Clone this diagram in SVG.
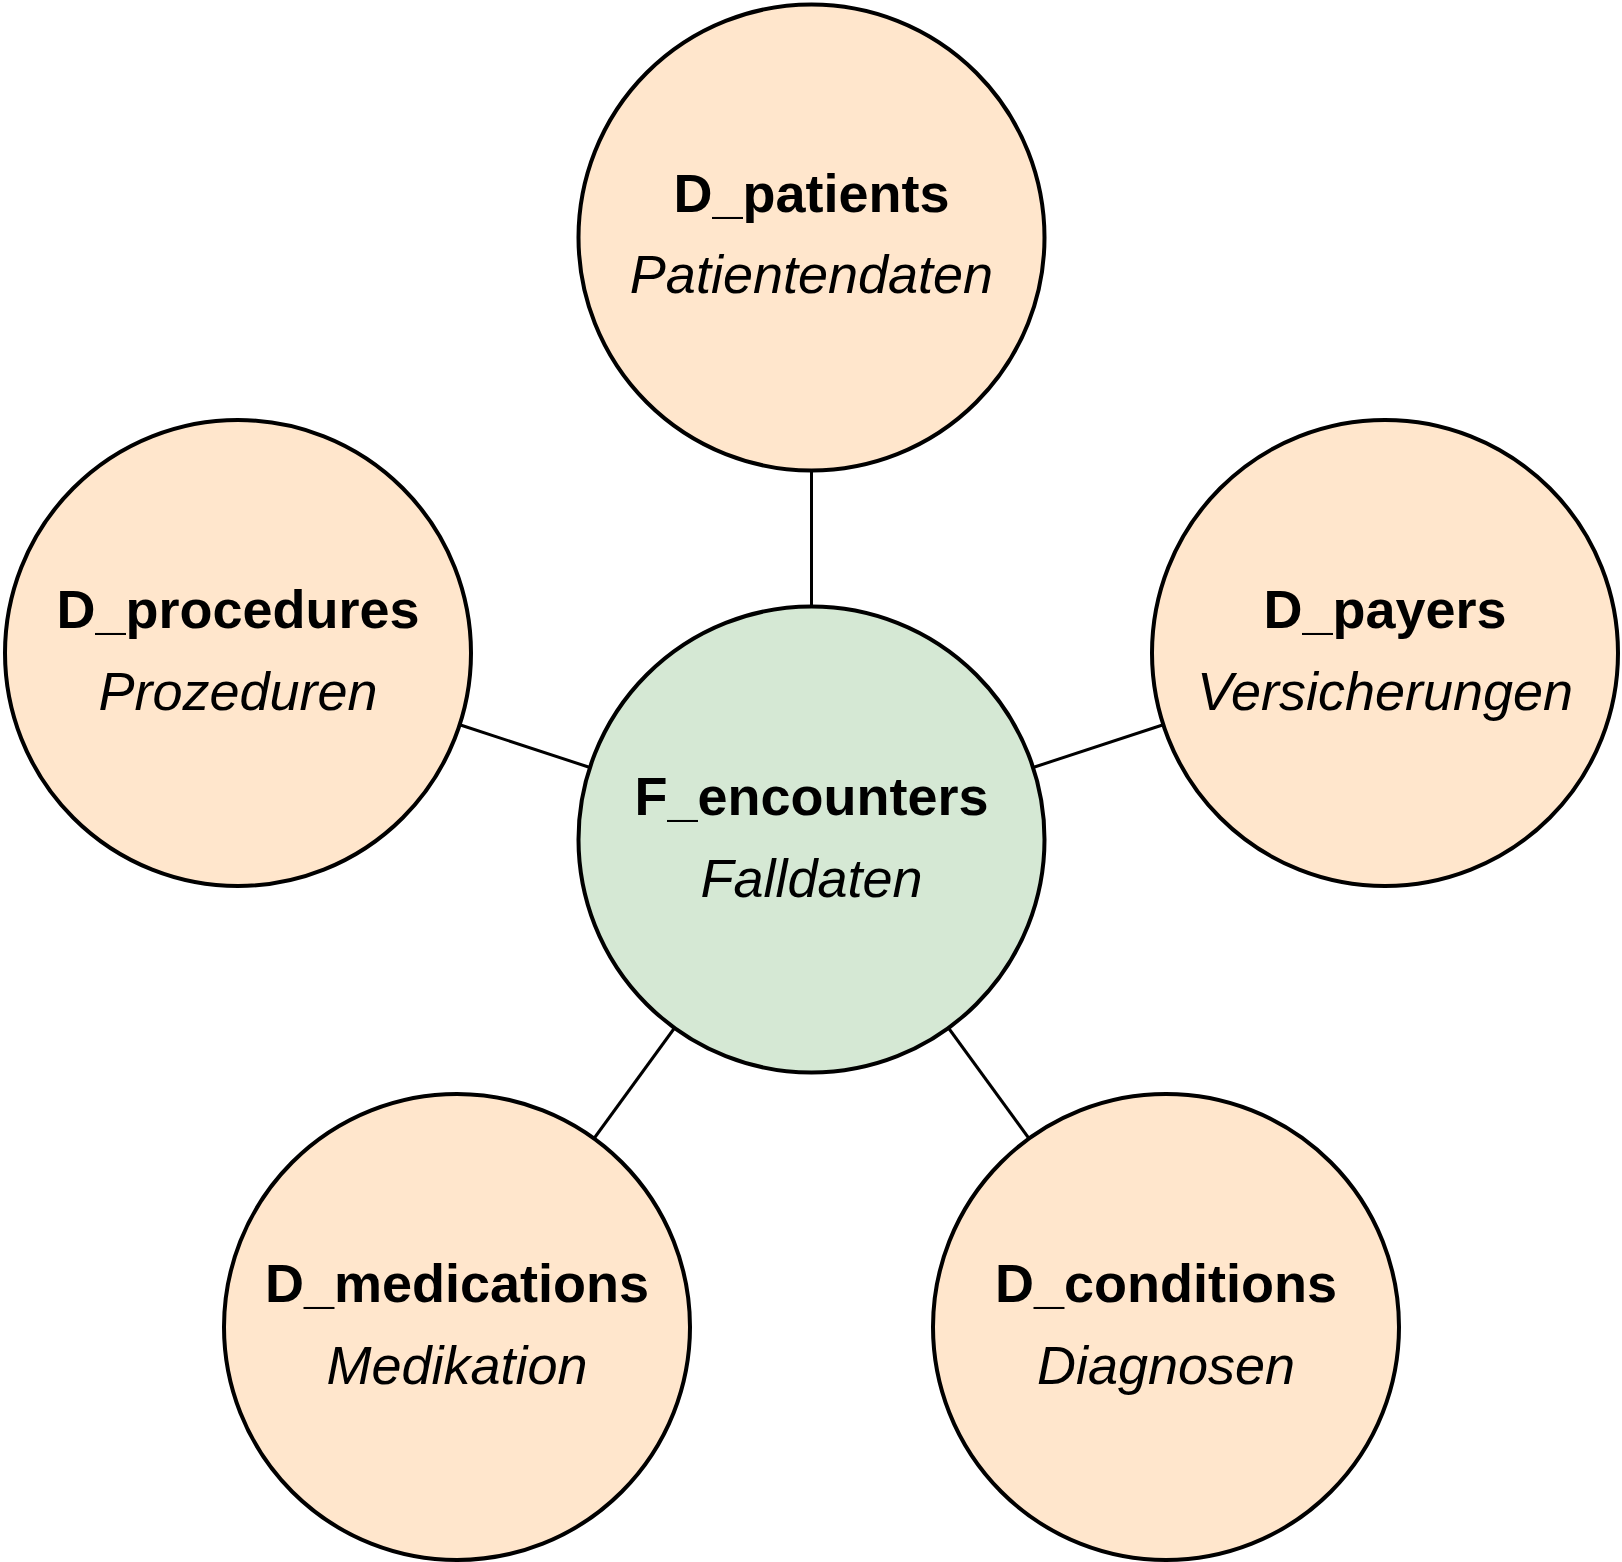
<svg xmlns="http://www.w3.org/2000/svg" width="1622" height="1562" viewBox="0 0 1622 1562">
<style>
.n{stroke:#000;stroke-width:4}
.d{fill:#ffe6cc}
.f{fill:#d5e8d4}
.t{font-family:"Liberation Sans",Arial,sans-serif;font-size:54px;fill:#000;text-anchor:middle}
.b{font-weight:bold}
.i{font-style:italic}
.c{stroke:#000;stroke-width:3;fill:none}
</style>
<rect width="1622" height="1562" fill="#fff"/>
<g id="connectors">
<line class="c" x1="811.5" y1="470" x2="811.5" y2="606.5"/>
<line class="c" x1="590" y1="767.5" x2="460.5" y2="725"/>
<line class="c" x1="1033" y1="767.5" x2="1162.5" y2="725"/>
<line class="c" x1="674.5" y1="1028" x2="594" y2="1138.5"/>
<line class="c" x1="948.5" y1="1028" x2="1029" y2="1138.5"/>
</g>
<g id="D_patients">
<circle class="n d" cx="811.5" cy="237.5" r="233"/>
<text class="t b" x="811.5" y="212">D_patients</text>
<text class="t i" x="811.5" y="293">Patientendaten</text>
</g>
<g id="F_encounters">
<circle class="n f" cx="811.5" cy="839.5" r="233"/>
<text class="t b" x="811.5" y="815">F_encounters</text>
<text class="t i" x="811.5" y="897">Falldaten</text>
</g>
<g id="D_procedures">
<circle class="n d" cx="238" cy="653" r="233"/>
<text class="t b" x="238" y="628">D_procedures</text>
<text class="t i" x="238" y="710">Prozeduren</text>
</g>
<g id="D_payers">
<circle class="n d" cx="1385" cy="653" r="233"/>
<text class="t b" x="1385" y="628">D_payers</text>
<text class="t i" x="1385" y="710">Versicherungen</text>
</g>
<g id="D_medications">
<circle class="n d" cx="457" cy="1327" r="233"/>
<text class="t b" x="457" y="1302">D_medications</text>
<text class="t i" x="457" y="1384">Medikation</text>
</g>
<g id="D_conditions">
<circle class="n d" cx="1166" cy="1327" r="233"/>
<text class="t b" x="1166" y="1302">D_conditions</text>
<text class="t i" x="1166" y="1384">Diagnosen</text>
</g>
</svg>
